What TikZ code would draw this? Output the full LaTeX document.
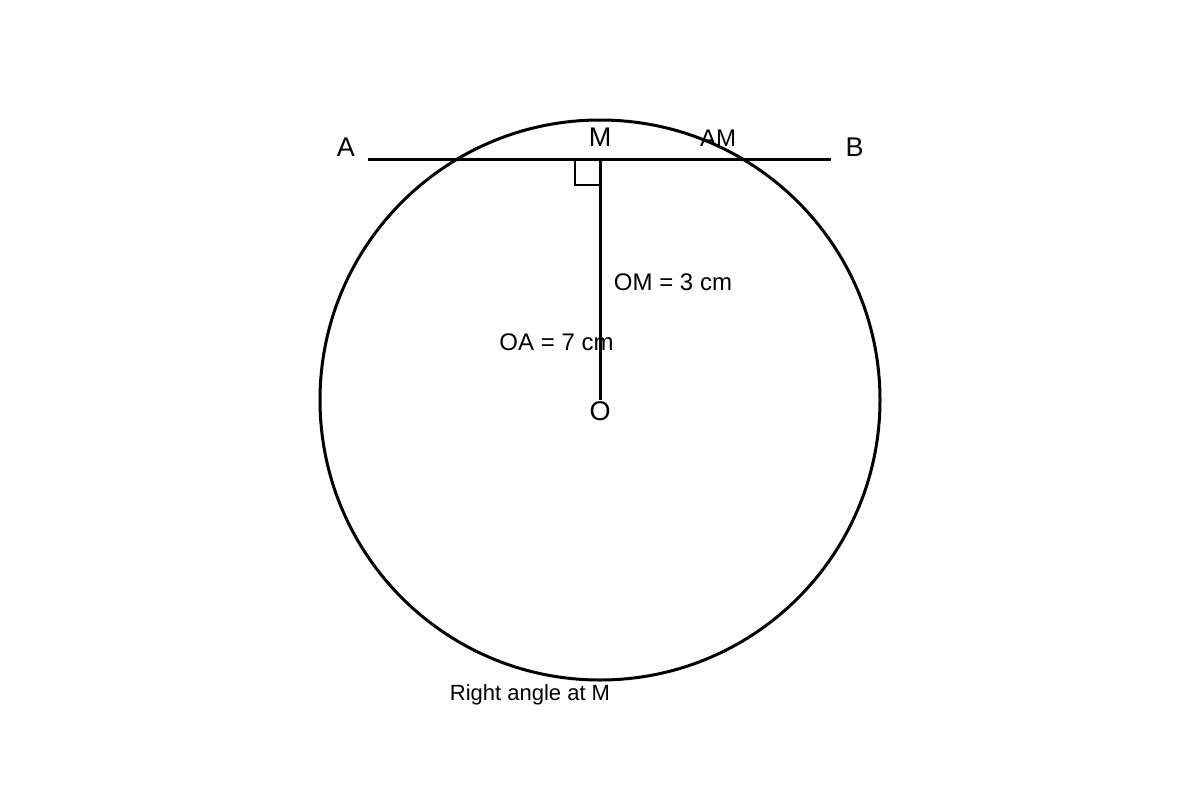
\documentclass[tikz,border=0pt]{standalone}
\usepackage{fontspec}
\setmainfont{Liberation Sans}
\usetikzlibrary{calc}
\begin{document}
\begin{tikzpicture}[x=1pt,y=-1pt,line width=3pt,
    pt/.style={anchor=base,inner sep=0pt,font=\fontsize{27}{32}\selectfont},
    lbl/.style={anchor=base,inner sep=0pt,font=\fontsize{24}{29}\selectfont}]
                \useasboundingbox (0,0) rectangle (1200,800);
                \coordinate (O) at (600,400);
                \coordinate (M) at (600,159);
                \coordinate (A) at (368,159);
                \coordinate (B) at (831,159);
                \draw (O) circle(280);
                \draw (A)--(M)--(B);
                \draw (M)--(O);
                \draw[line width=2pt] ($(M)+(0,26)$) -- ++(-25,0) -- ++(0,-26);
                \node[pt] (lA) at (346,156) {A};
                \node[pt] (lB) at (854.5,156) {B};
                \node[pt] (lM) at (600,146) {M};
                \node[pt] (lO) at (600,420) {O};
                \node[lbl] (lAM) at (718,146) {AM};
                \node[lbl] (lOM) at (673,290.5) {OM = 3 cm};
                \node[lbl] (lOA) at (556.5,350) {OA = 7 cm};
                \node[lbl,font=\fontsize{22}{26}\selectfont] (lRt) at (530,700) {Right angle at M};
            \end{tikzpicture}
\end{document}
